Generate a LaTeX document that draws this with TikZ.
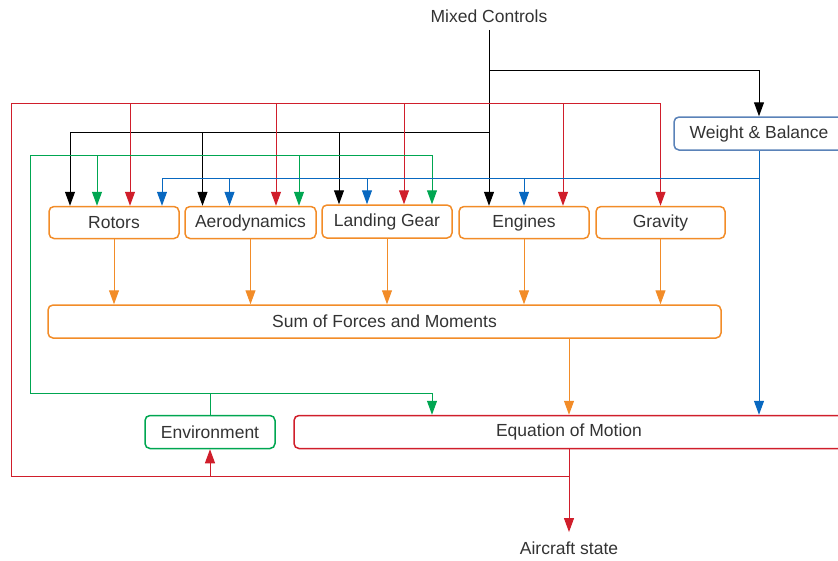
\documentclass[tikz,border=0pt]{standalone}
\usepackage{fontspec}
\setmainfont{Liberation Sans}
\usetikzlibrary{arrows.meta}

\definecolor{txtgray}{HTML}{333333}
\definecolor{forceorange}{HTML}{F28C28}
\definecolor{statered}{HTML}{D01E2B}
\definecolor{envgreen}{HTML}{00A651}
\definecolor{wbblue}{HTML}{0868C0}
\definecolor{wbframe}{HTML}{5A82B8}

\begin{document}
\begin{tikzpicture}[x=1pt,y=-1pt,
  box/.style={draw=forceorange,line width=1.5pt,rounded corners=5pt,
    minimum height=32pt,inner sep=0pt,text=txtgray,
    font=\fontsize{17.5}{20}\selectfont},
  lbl/.style={text=txtgray,font=\fontsize{17.5}{20}\selectfont},
  tip/.style={-{Triangle[width=10pt,length=14pt]}},
  ctrl/.style={draw=black,line width=1pt},
  sfb/.style={draw=statered,line width=1pt},
  efb/.style={draw=envgreen,line width=1pt},
  wfb/.style={draw=wbblue,line width=1pt},
  ffb/.style={draw=forceorange,line width=1pt}]

% Picture frame
\clip (0,0) rectangle (838,560);

% Inputs and outputs
\node[lbl] (mixed) at (489,16) {Mixed Controls};
\node[lbl] (state) at (569,548) {Aircraft state};

% Force and moment blocks
\node[box,minimum width=130pt] (rotors) at (114,222.5) {Rotors};
\node[box,minimum width=131pt] (aero) at (250.5,222.5) {Aerodynamics};
\node[box,minimum width=130pt,minimum height=33pt] (gear) at (387,221.5) {Landing Gear};
\node[box,minimum width=130pt] (engines) at (524,222.5) {Engines};
\node[box,minimum width=129pt] (gravity) at (660.5,222.5) {Gravity};
\node[box,minimum width=673pt,minimum height=33pt] (sum) at (384.5,321.5) {Sum of Forces and Moments};

% Other blocks
\node[box,draw=wbframe,minimum width=170pt,minimum height=33pt] (wb) at (759,133.5) {Weight \& Balance};
\node[box,draw=envgreen,minimum width=130pt,minimum height=33pt] (env) at (210,432) {Environment};
\node[box,draw=statered,minimum width=550pt,minimum height=33pt] (eom) at (569,432) {Equation of Motion};

% Bus levels
\coordinate (wbus) at (0,70);
\coordinate (rtop) at (0,103);
\coordinate (kbus) at (0,132);
\coordinate (gtop) at (0,155);
\coordinate (bbus) at (0,178);
\coordinate (gbot) at (0,393);
\coordinate (rbot) at (0,476);
\coordinate (rleft) at (11,0);
\coordinate (gleft) at (30,0);

% Controls (black)
\draw[ctrl,tip] ([yshift=-4pt]mixed.south) -- (mixed.south |- engines.north);
\draw[ctrl,tip] (mixed.south |- wbus) -| (wb.north);
\draw[ctrl] (mixed.south |- kbus) -- ([xshift=-44pt]rotors.north |- kbus);
\foreach \n/\s in {rotors/-44,aero/-48,gear/-48}
  \draw[ctrl,tip] ([xshift=\s pt]\n.north |- kbus) -- ([xshift=\s pt]\n.north);

% Aircraft state feedback (red)
\draw[sfb] (eom.south) -- (eom.south |- rbot) -- (rleft |- rbot)
  -- (rleft |- rtop) -- (gravity.north |- rtop);
\foreach \n/\s in {rotors/16,aero/25.5,gear/17,engines/39,gravity/0}
  \draw[sfb,tip] ([xshift=\s pt]\n.north |- rtop) -- ([xshift=\s pt]\n.north);
\draw[sfb,tip] (env.south |- rbot) -- (env.south);
\draw[sfb,tip] (eom.south |- rbot) -- ([yshift=6pt]state.north);

% Environment (green)
\draw[efb] (env.north) -- (env.north |- gbot) -- (gleft |- gbot)
  -- (gleft |- gtop) -- ([xshift=45pt]gear.north |- gtop);
\foreach \n/\s in {rotors/-17,aero/48.5,gear/45}
  \draw[efb,tip] ([xshift=\s pt]\n.north |- gtop) -- ([xshift=\s pt]\n.north);
\draw[efb,tip] (env.north |- gbot) -| ([xshift=-137pt]eom.north);

% Weight and balance (blue)
\draw[wfb,tip] (wb.south) -- (wb.south |- eom.north);
\draw[wfb] (wb.south |- bbus) -- ([xshift=48pt]rotors.north |- bbus);
\foreach \n/\s in {rotors/48,aero/-21,gear/-20,engines/0}
  \draw[wfb,tip] ([xshift=\s pt]\n.north |- bbus) -- ([xshift=\s pt]\n.north);

% Forces and moments (orange)
\foreach \n in {rotors,aero,gear,engines,gravity}
  \draw[ffb,tip] (\n.south) -- (\n.south |- sum.north);
\draw[ffb,tip] (eom.north |- sum.south) -- (eom.north);

\end{tikzpicture}
\end{document}
